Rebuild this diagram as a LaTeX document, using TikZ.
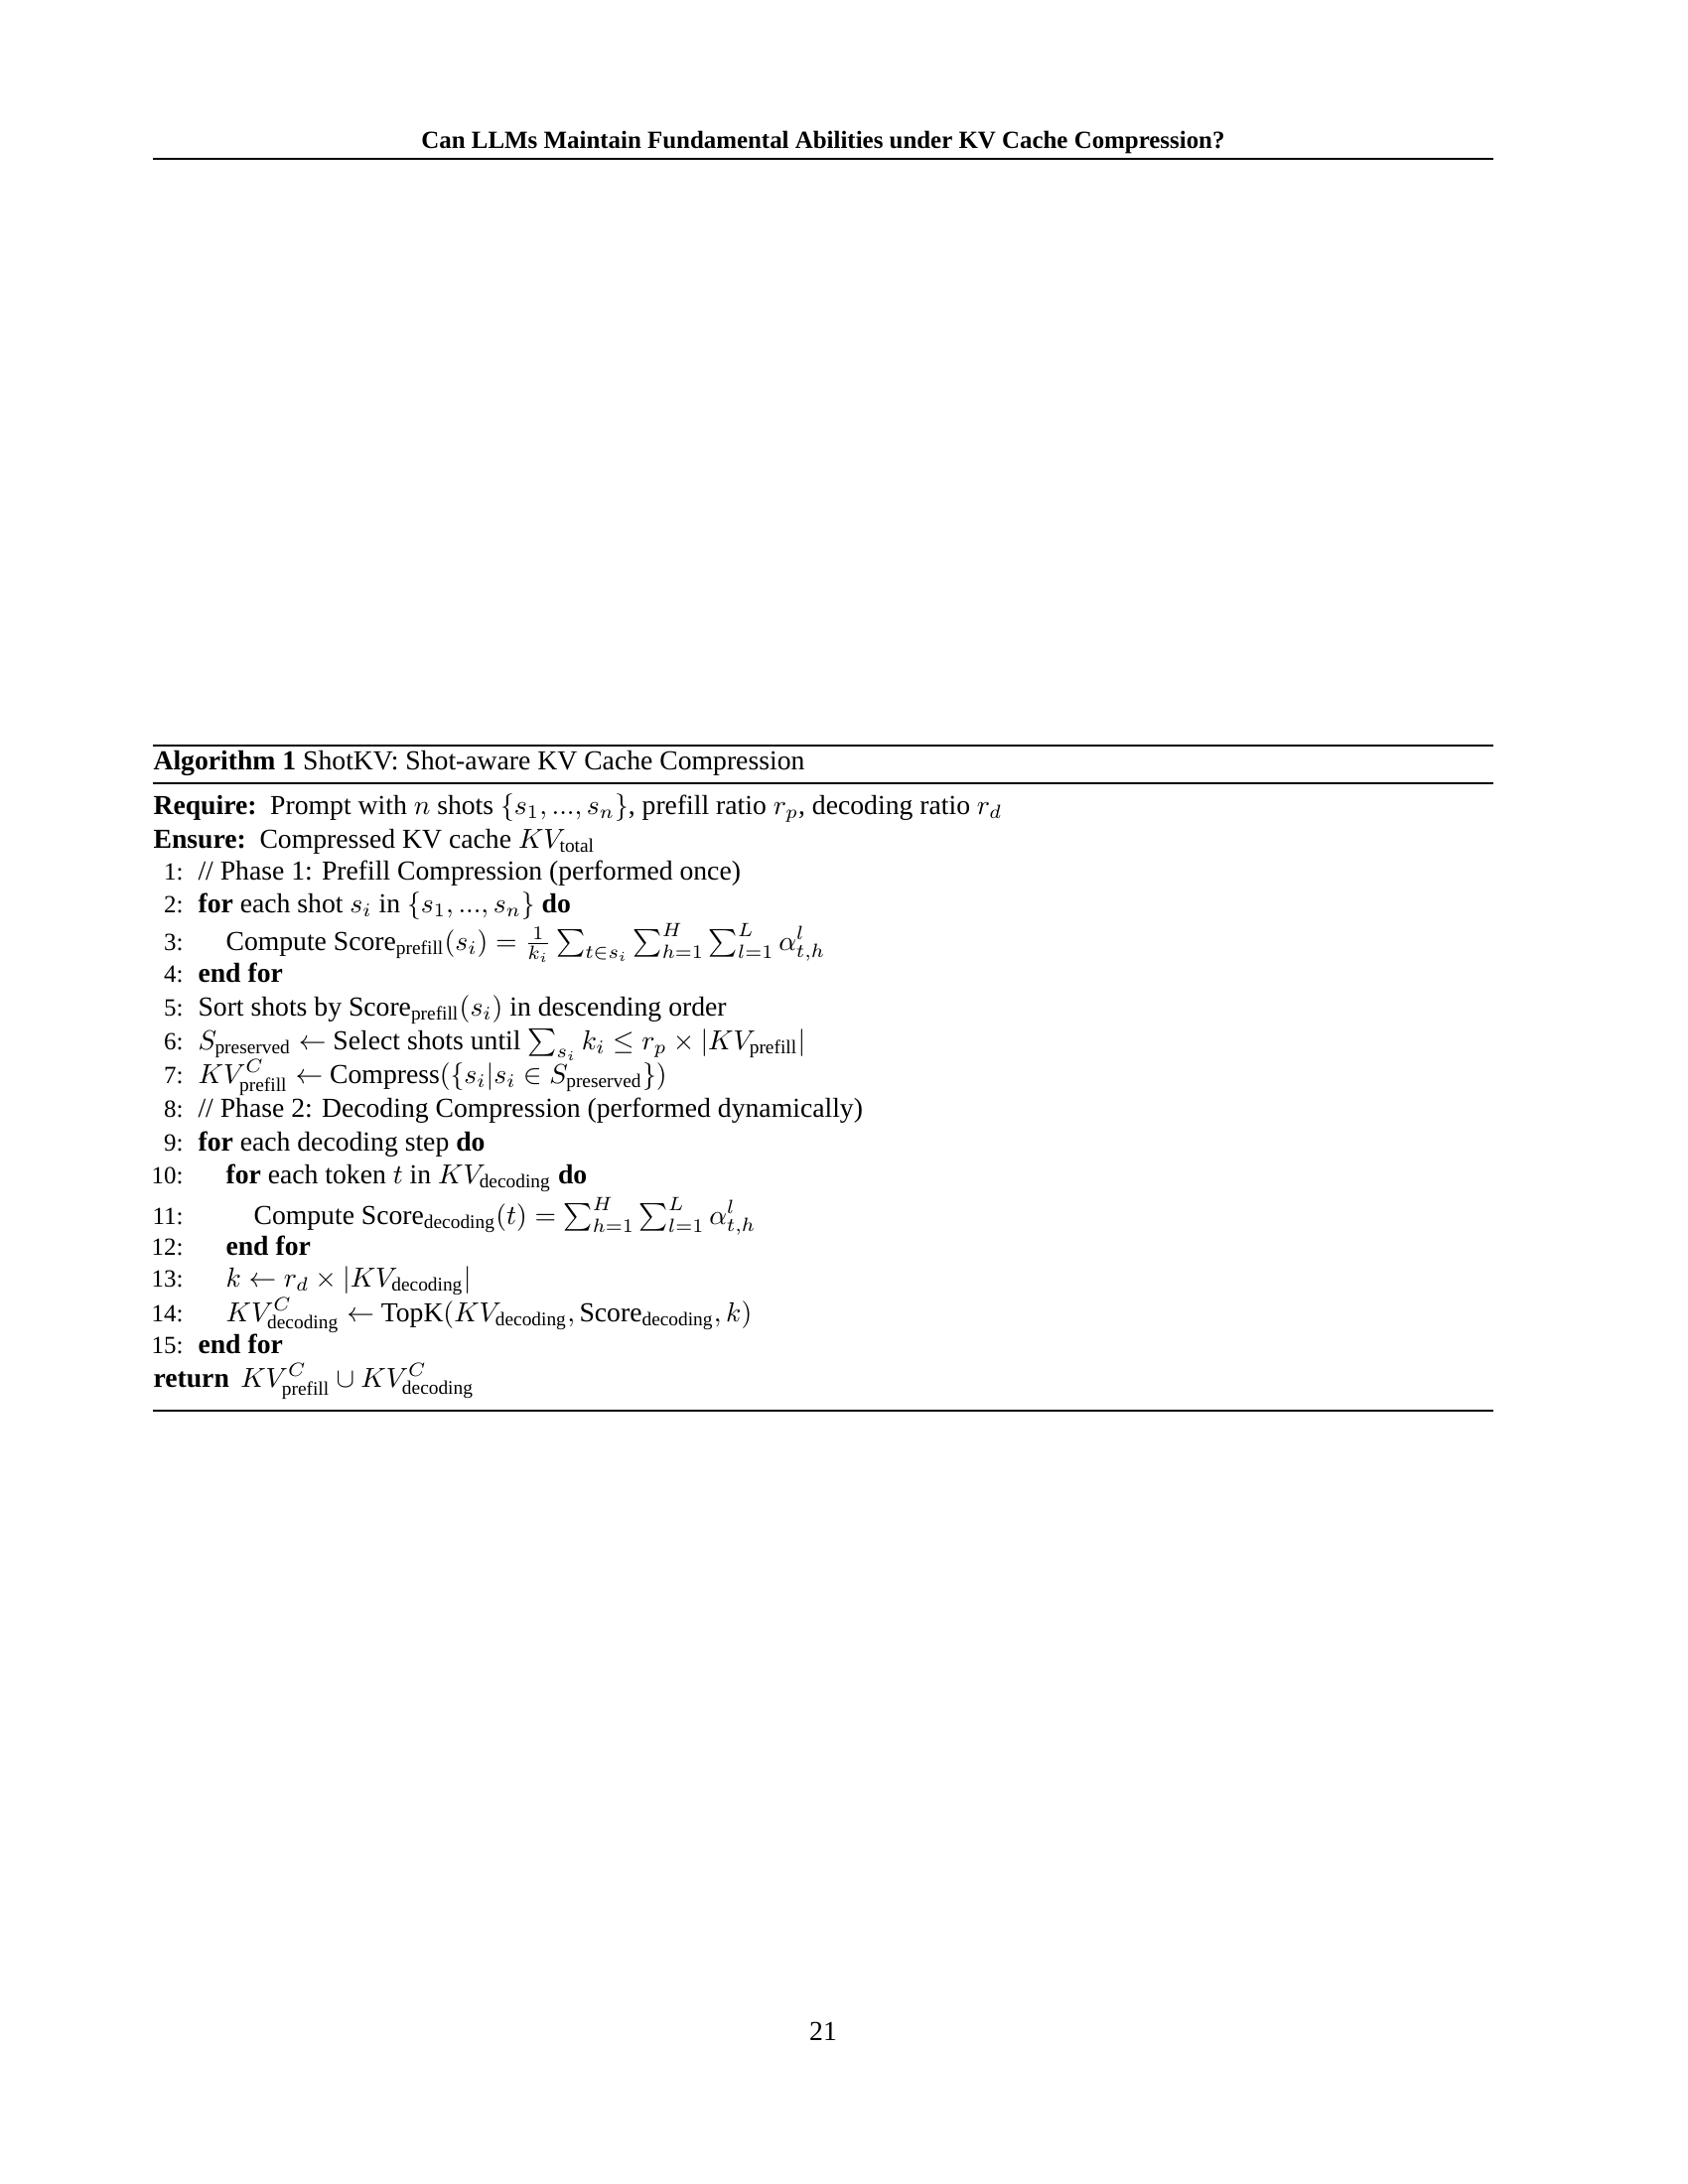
\documentclass[tikz,border=0pt]{standalone}
\usepackage{amsmath}
\usepackage{amssymb}
\usepackage[no-math]{fontspec}
\setmainfont{Liberation Serif}
\usepackage{tikz}
\usetikzlibrary{positioning}
\tikzset{
  algline/.style={
    anchor=base west,
    inner sep=0pt,
    font=\fontsize{10}{11}\selectfont},
  lineno/.style={
    anchor=base east,
    inner sep=0pt,
    font=\fontsize{9}{10}\selectfont},
  headline/.style={
    anchor=base,
    inner sep=0pt,
    font=\fontsize{9}{10}\selectfont\bfseries},
  thickrule/.style={line width=0.75pt},
  thinrule/.style={line width=0.4pt},
}
\newcommand{\KVsub}[1]{KV_{\text{#1}}}
\newcommand{\algkw}[1]{\textbf{#1}}

\begin{document}
\begin{tikzpicture}
[
x=0.36135pt, y=-0.36135pt,
]
\useasboundingbox (0,0) rectangle (1700,2200);

%Header
\node[headline] (header) at (829,149) {Can LLMs Maintain Fundamental Abilities under KV Cache Compression?};
\draw[thickrule] (154,160) -- (1504,160);

%Algorithm rules and title
\draw[thickrule] (154,751) -- (1504,751);
\node[algline] (algtitle) at (154,775) {\algkw{Algorithm 1} ShotKV: Shot-aware KV Cache Compression};
\draw[thickrule] (154,789) -- (1504,789);

%Require / Ensure
\node[algline] (require) at (154,820) {\algkw{Require:}\hspace{1.6pt} Prompt with $n$ shots $\{s_1, ..., s_n\}$, prefill ratio $r_p$, decoding ratio $r_d$};
\node[algline] (ensure)  at (154,854) {\algkw{Ensure:}\hspace{1.6pt} Compressed KV cache $\KVsub{total}$};

%Line numbers
\foreach \i/\y in {1/886, 2/919, 3/957, 4/989, 5/1023, 6/1057, 7/1091, 8/1125,
                   9/1159, 10/1192, 11/1233, 12/1264, 13/1296, 14/1331, 15/1363}
  \node[lineno] (n\i) at (185,\y) {\i:};

%Statements
\node[algline] (l1)  at (199,886)  {// Phase 1: Prefill Compression (performed once)};
\node[algline] (l2)  at (199,919)  {\algkw{for} each shot $s_i$ in $\{s_1, ..., s_n\}$ \algkw{do}};
\node[algline] (l3)  at (227,957)  {Compute Score$_{\text{prefill}}(s_i) = \frac{1}{k_i} \sum_{t \in s_i} \sum_{h=1}^{H} \sum_{l=1}^{L} \alpha_{t,h}^{l}$};
\node[algline] (l4)  at (199,989)  {\algkw{end for}};
\node[algline] (l5)  at (199,1023) {Sort shots by Score$_{\text{prefill}}(s_i)$ in descending order};
\node[algline] (l6)  at (199,1057) {$S_{\text{preserved}} \leftarrow$ Select shots until $\sum_{s_i} k_i \leq r_p \times |\KVsub{prefill}|$};
\node[algline] (l7)  at (199,1091) {$\KVsub{prefill}^{C} \leftarrow$ Compress$(\{s_i | s_i \in S_{\text{preserved}}\})$};
\node[algline] (l8)  at (199,1125) {// Phase 2: Decoding Compression (performed dynamically)};
\node[algline] (l9)  at (199,1159) {\algkw{for} each decoding step \algkw{do}};
\node[algline] (l10) at (227,1192) {\algkw{for} each token $t$ in $\KVsub{decoding}$ \algkw{do}};
\node[algline] (l11) at (255,1233) {Compute Score$_{\text{decoding}}(t) = \sum_{h=1}^{H} \sum_{l=1}^{L} \alpha_{t,h}^{l}$};
\node[algline] (l12) at (227,1264) {\algkw{end for}};
\node[algline] (l13) at (227,1296) {$k \leftarrow r_d \times |\KVsub{decoding}|$};
\node[algline] (l14) at (227,1331) {$\KVsub{decoding}^{C} \leftarrow$ TopK$(\KVsub{decoding}, \text{Score}_{\text{decoding}}, k)$};
\node[algline] (l15) at (199,1363) {\algkw{end for}};
\node[algline] (ret) at (154,1397) {\algkw{return}\hspace{1.6pt} $\KVsub{prefill}^{C} \cup \KVsub{decoding}^{C}$};
\draw[thinrule] (154,1421) -- (1504,1421);

%Page number
\node[algline, anchor=base] (pagenum) at (829,2055) {21};

\end{tikzpicture}
\end{document}
